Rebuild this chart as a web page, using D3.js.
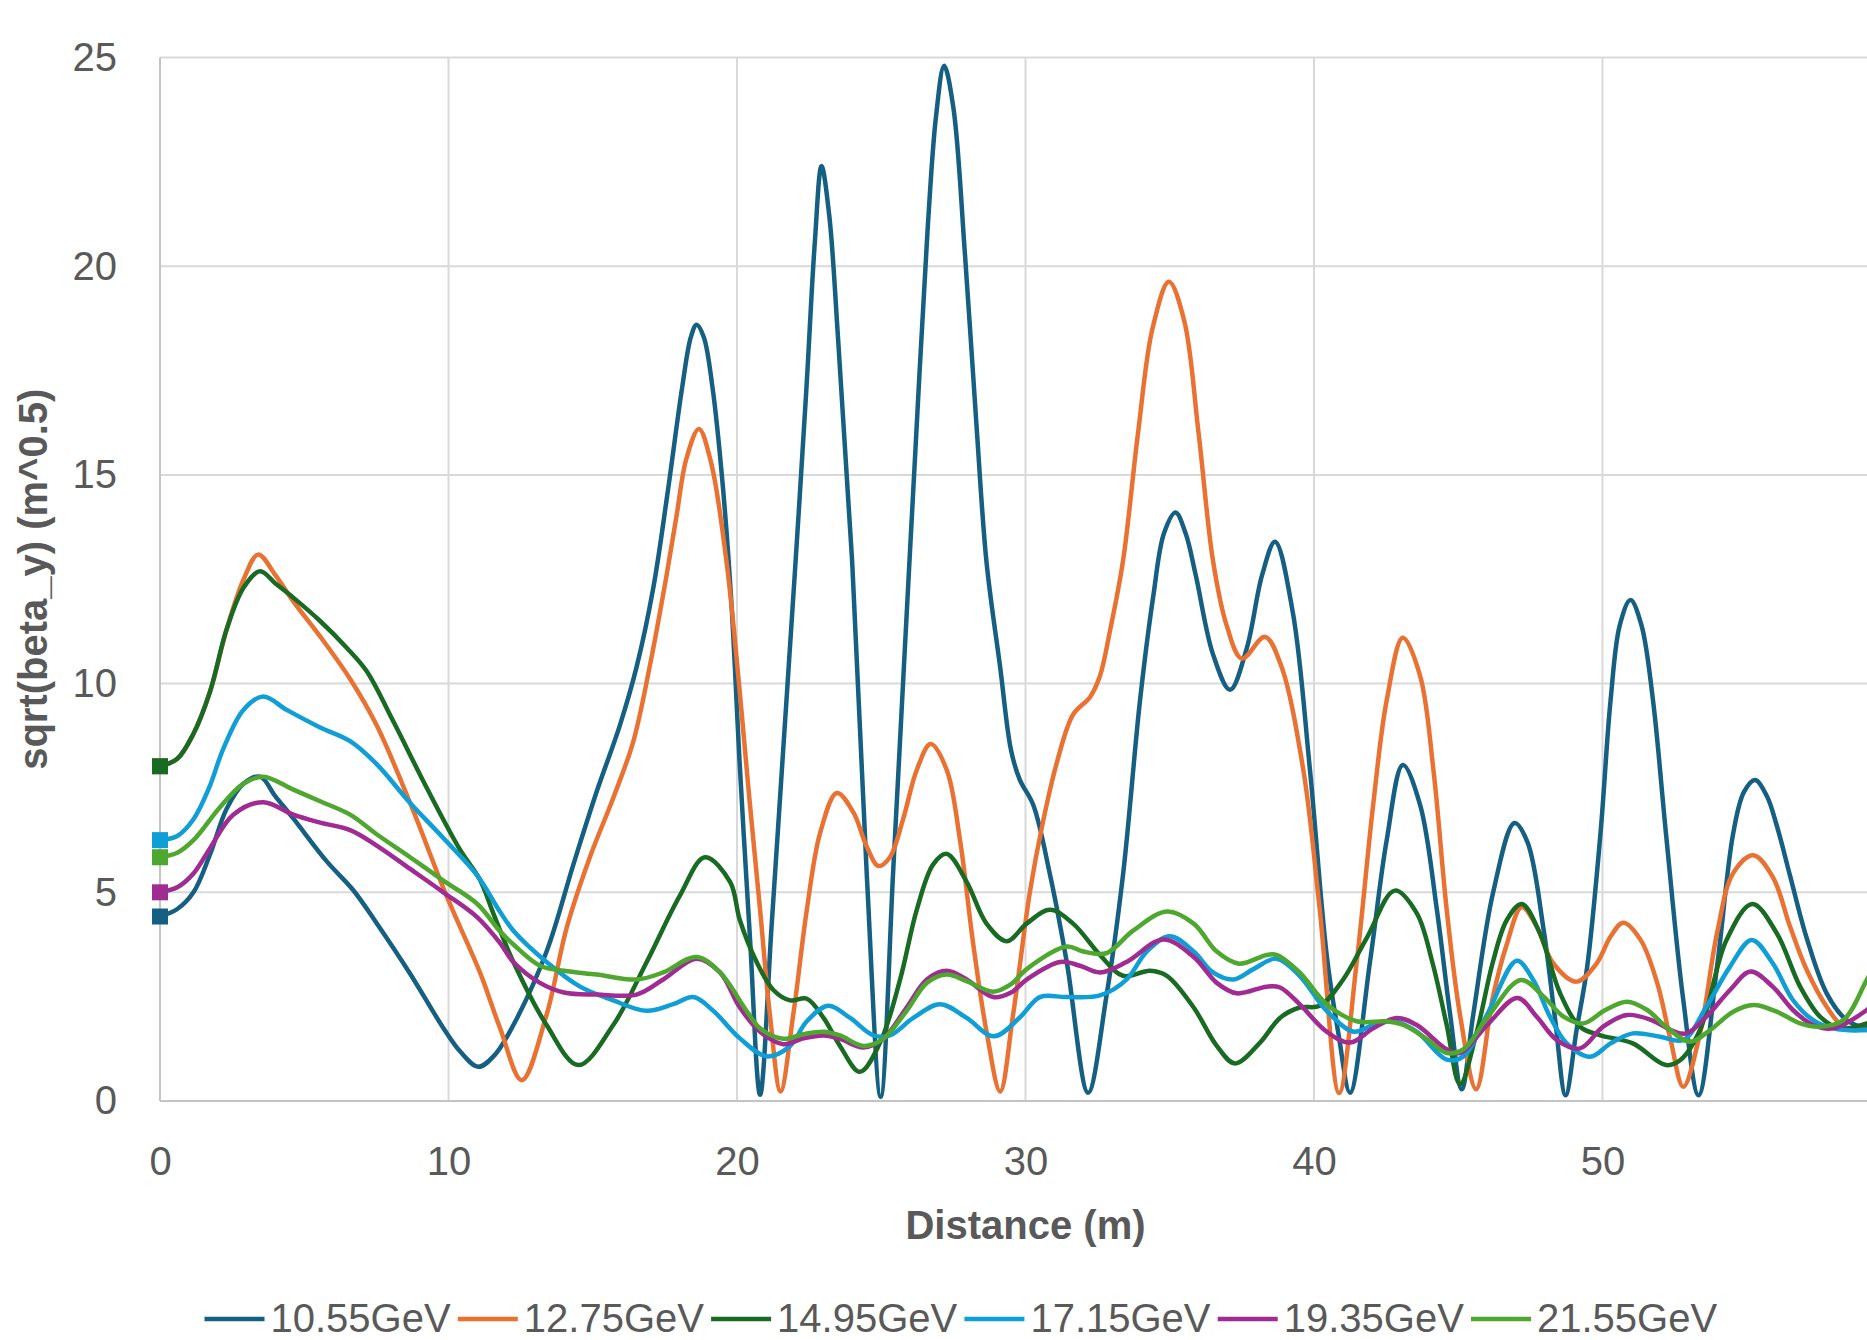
<!DOCTYPE html>
<html>
<head>
<meta charset="utf-8">
<script src="https://cdn.jsdelivr.net/npm/d3@7"></script>
<style>
  body { margin: 0; background: #fff; }
  text { font-family: "Liberation Sans", Arial, sans-serif; fill: #595959; }
</style>
</head>
<body>
<div id="chart"></div>
<script>
// sqrt(beta_y) along the line, one series per beam energy
var seriesNames = ["10.55GeV", "12.75GeV", "14.95GeV", "17.15GeV", "19.35GeV", "21.55GeV"];
var seriesColors = ["#156082", "#E97132", "#196B24", "#0F9ED5", "#A02B93", "#4EA72E"];

var xTicks = [0, 10, 20, 30, 40, 50];
var yTicks = [0, 5, 10, 15, 20, 25];

var s10_55 = [[0,4.42],[0.6,4.6],[1.16,5.0],[1.73,5.9],[2.31,7.0],[2.89,7.6],[3.47,7.77],[4.0,7.3],[4.62,6.77],
  [5.78,5.74],[6.7,5.05],[7.51,4.26],[8.67,3.05],[9.82,1.75],[10.4,1.19],[11.03,0.82],[11.6,1.1],[12.25,1.82],
  [13.4,3.58],[14.33,5.67],[15.14,7.42],[15.94,9.0],[16.52,10.4],[17.1,12.3],[17.6,14.6],[18.1,17.1],[18.4,18.3],
  [18.6,18.6],[18.85,18.3],[19.15,17.1],[19.5,14.8],[19.8,12.0],[20.1,8.0],[20.45,3.9],[20.8,0.15],[21.2,4.2],[21.6,8.4],
  [22.0,12.6],[22.4,17.0],[22.7,20.6],[22.93,22.4],[23.2,21.2],[23.5,18.3],[24.0,12.8],[24.5,5.4],
  [24.98,0.1],[25.42,5.6],[25.8,10.6],[26.2,15.8],[26.6,20.8],[26.9,23.6],[27.18,24.8],[27.5,23.8],[27.9,20.3],
  [28.3,16.2],[28.65,12.9],[29.12,10.4],[29.5,8.4],[29.8,7.7],[30.27,7.09],[30.85,5.42],[31.43,3.33],[32.17,0.2],
  [32.8,2.49],[33.38,5.42],[33.97,9.6],[34.43,12.1],[34.8,13.6],[35.2,14.1],[35.55,13.6],[35.9,12.6],[36.5,10.7],
  [37.09,9.85],[37.67,10.85],[38.2,12.6],[38.65,13.4],[39.27,11.69],[39.86,7.93],[40.44,3.5],[40.85,1.6],[41.25,0.2],
  [41.94,3.33],[42.52,6.25],[43.08,8.05],[43.68,7.09],[44.26,4.58],[44.72,2.07],[45.12,0.28],[45.52,2.07],[46.21,5.0],
  [46.95,6.66],[47.4,6.2],[47.96,4.1],[48.35,2.0],[48.72,0.14],[49.1,1.7],[49.47,3.22],[49.93,6.41],[50.28,9.6],
  [50.6,11.4],[50.97,12.0],[51.35,11.4],[51.75,9.6],[52.2,6.41],[52.8,2.42],[53.33,0.14],[53.97,3.22],[54.53,6.41],
  [54.9,7.4],[55.29,7.69],[55.7,7.3],[56.04,6.6],[56.5,5.4],[57.08,3.9],[57.77,2.58],[58.46,1.94],[59.16,1.74],[60,1.7]];

var s12_75 = [[0,8.02],[0.6,8.2],[1.16,8.8],[1.73,9.8],[2.31,11.3],[2.9,12.5],[3.4,13.09],[4.0,12.6],[4.62,11.97],
  [5.55,11.13],[6.59,10.11],[7.51,9.0],[8.67,7.14],[9.94,4.9],[11.09,3.08],[11.79,1.74],[12.54,0.5],[13.4,2.07],
  [14.1,4.16],[14.9,5.84],[15.71,7.26],[16.4,8.6],[16.98,10.43],[17.56,12.6],[17.9,14.0],[18.25,15.4],[18.68,16.1],
  [19.1,15.3],[19.64,12.9],[20.1,9.77],[20.45,7.09],[20.8,4.58],[21.14,2.07],[21.51,0.23],[21.95,2.07],[22.42,4.58],
  [22.88,6.42],[23.46,7.38],[24.03,6.92],[24.5,6.09],[24.9,5.63],[25.3,5.84],[25.76,6.76],[26.23,7.93],[26.71,8.55],
  [27.27,7.93],[27.73,6.25],[28.19,3.75],[28.65,1.66],[29.12,0.23],[29.57,2.07],[30.15,5.0],[30.6,6.67],[31.08,8.09],
  [31.65,9.26],[32.24,9.68],[32.58,10.18],[32.93,11.27],[33.38,12.94],[33.9,16.0],[34.4,18.5],[34.97,19.63],
  [35.5,18.7],[36.0,16.0],[36.5,12.94],[36.97,11.4],[37.5,10.6],[38.3,11.12],[38.85,10.45],[39.63,7.93],[40.2,4.58],
  [40.87,0.19],[41.48,3.33],[42.05,7.09],[42.52,9.6],[43.08,11.1],[43.68,10.18],[44.14,7.93],[44.6,4.58],[45.06,2.07],
  [45.62,0.28],[46.2,2.49],[46.68,3.75],[47.2,4.65],[47.72,4.18],[48.29,3.3],[49.1,2.86],[49.8,3.3],[50.28,3.94],
  [50.72,4.27],[51.32,3.86],[51.9,2.82],[52.36,1.46],[52.8,0.34],[53.38,1.62],[53.97,4.02],[54.53,5.46],[55.23,5.89],
  [55.9,5.37],[56.5,4.18],[57.08,3.14],[57.77,2.26],[58.35,1.78],[59.16,1.7],[60,1.7]];

var s14_95 = [[0,8.02],[0.6,8.2],[1.16,8.8],[1.73,9.8],[2.31,11.3],[2.9,12.3],[3.47,12.69],[4.0,12.4],[4.62,12.06],
  [5.55,11.5],[6.47,10.86],[7.16,10.3],[8.09,9.09],[9.24,7.51],[10.4,6.02],[11.09,5.3],[11.55,4.5],[12.25,3.33],
  [13.4,1.82],[14.5,0.86],[15.71,1.82],[16.87,3.33],[18.02,4.92],[18.89,5.84],[19.76,5.25],[20.1,4.33],[20.68,3.33],
  [21.26,2.66],[21.84,2.41],[22.42,2.45],[23.0,1.99],[23.57,1.32],[24.26,0.7],[24.96,1.4],[25.65,2.9],[26.23,4.58],
  [26.8,5.67],[27.27,5.92],[27.96,5.25],[28.65,4.25],[29.35,3.83],[30.04,4.25],[30.85,4.58],[31.65,4.25],[32.58,3.5],
  [33.38,3.0],[34.32,3.12],[34.9,3.0],[35.83,2.24],[36.63,1.32],[37.26,0.9],[38.13,1.4],[38.82,1.99],[39.5,2.24],
  [40.2,2.28],[41.0,2.9],[41.83,3.91],[42.8,5.04],[43.56,4.5],[44.1,3.33],[44.6,1.82],[45.06,0.4],[45.64,1.65],
  [46.2,3.33],[46.68,4.33],[47.2,4.72],[47.83,4.02],[48.53,2.58],[49.22,1.78],[49.9,1.58],[51.05,1.38],[52.2,0.86],
  [52.7,0.98],[53.38,1.7],[54.3,3.86],[55.19,4.72],[56.04,4.02],[56.85,2.74],[57.54,2.02],[58.23,1.74],[59.16,1.86],[60,2.1]];

var s17_15 = [[0,6.25],[0.6,6.35],[1.16,6.75],[1.7,7.5],[2.2,8.45],[2.89,9.37],[3.58,9.69],[4.39,9.37],[5.55,8.95],
  [6.59,8.62],[7.51,8.07],[8.67,7.14],[9.82,6.3],[11.0,5.4],[11.78,4.54],[12.25,4.08],[13.4,3.33],[14.56,2.74],[15.71,2.41],
  [16.87,2.16],[17.79,2.32],[18.49,2.49],[19.18,2.16],[20.1,1.5],[21.03,1.07],[21.84,1.32],[22.42,1.91],[23.16,2.28],
  [23.92,1.99],[24.73,1.57],[25.3,1.57],[26.11,1.99],[27.04,2.32],[27.96,1.99],[28.9,1.55],[29.8,2.0],[30.5,2.49],
  [31.43,2.49],[32.58,2.53],[33.5,2.91],[34.2,3.58],[35.0,3.95],[35.83,3.58],[36.5,3.08],[37.2,2.91],[37.9,3.16],
  [38.7,3.41],[39.5,3.0],[40.44,2.16],[41.37,1.66],[42.05,1.82],[42.75,1.91],[43.56,1.66],[44.6,0.99],[45.18,1.07],
  [46.0,2.07],[47.03,3.36],[47.6,2.9],[48.18,2.02],[48.76,1.38],[49.57,1.06],[50.28,1.38],[51.05,1.62],[52.0,1.54],
  [52.8,1.46],[53.6,2.26],[54.42,3.22],[55.17,3.86],[55.9,3.3],[56.6,2.42],[57.3,1.94],[58.0,1.74],[59.16,1.7],[60,1.8]];

var s19_35 = [[0,5.0],[0.6,5.12],[1.16,5.45],[1.73,6.05],[2.54,6.86],[3.58,7.16],[4.62,6.86],[5.55,6.67],[6.59,6.49],
  [7.51,6.12],[8.67,5.56],[9.82,5.0],[11.0,4.4],[11.78,3.79],[12.25,3.33],[13.17,2.83],[14.0,2.6],[15.14,2.55],
  [16.52,2.55],[17.44,2.91],[18.6,3.41],[19.41,3.08],[20.1,2.24],[20.8,1.66],[21.6,1.36],[22.3,1.5],[23.0,1.57],
  [23.57,1.49],[24.38,1.28],[25.07,1.49],[25.88,2.24],[26.58,2.91],[27.27,3.12],[27.96,2.91],[28.88,2.49],[29.5,2.6],
  [30.04,2.91],[31.2,3.33],[31.89,3.24],[32.58,3.08],[33.5,3.33],[34.78,3.87],[35.83,3.45],[36.63,2.83],[37.32,2.58],
  [38.36,2.74],[38.82,2.72],[39.5,2.32],[40.44,1.66],[41.25,1.4],[42.05,1.74],[42.86,1.99],[43.56,1.82],[44.6,1.24],
  [45.06,1.15],[46.0,1.82],[47.05,2.47],[47.72,2.02],[48.42,1.46],[49.22,1.26],[50.02,1.78],[50.85,2.06],[51.7,1.94],
  [52.5,1.66],[52.92,1.62],[53.6,2.02],[54.42,2.66],[55.13,3.1],[55.9,2.74],[56.6,2.18],[57.3,1.82],[58.0,1.74],
  [59.16,2.18],[60,2.7]];

var s21_55 = [[0,5.84],[0.6,5.95],[1.16,6.25],[2.08,7.04],[2.89,7.6],[3.58,7.77],[4.62,7.46],[5.55,7.18],[6.59,6.86],
  [7.51,6.39],[8.67,5.84],[9.82,5.28],[11.0,4.72],[11.78,4.07],[12.25,3.75],[13.17,3.24],[14.0,3.12],[15.14,3.03],
  [16.52,2.91],[17.44,3.08],[18.6,3.45],[19.41,3.08],[20.33,2.16],[20.8,1.74],[21.6,1.49],[22.3,1.6],[23.0,1.66],
  [23.57,1.57],[24.38,1.32],[25.07,1.49],[25.88,2.16],[26.58,2.83],[27.27,3.03],[27.96,2.87],[28.88,2.62],[29.5,2.8],
  [30.04,3.16],[31.43,3.7],[32.0,3.58],[32.8,3.54],[33.73,4.08],[34.9,4.54],[35.83,4.25],[36.63,3.58],[37.4,3.29],
  [38.36,3.5],[38.7,3.5],[39.5,3.08],[40.44,2.32],[41.48,1.91],[42.52,1.91],[43.1,1.82],[43.9,1.49],[44.6,1.15],
  [45.18,1.24],[46.0,1.99],[47.17,2.9],[47.96,2.5],[48.65,2.02],[49.34,1.86],[50.1,2.18],[50.85,2.38],[51.55,2.18],
  [52.2,1.78],[53.03,1.42],[53.73,1.7],[54.53,2.14],[55.23,2.3],[56.04,2.14],[56.85,1.86],[57.54,1.78],[58.35,1.94],
  [59.16,2.9],[60,4.0]];

var allSeries = [s10_55, s12_75, s14_95, s17_15, s19_35, s21_55];

var width = 1867, height = 1340;
var plotLeft = 160, plotRight = 1891, plotTop = 57.5, plotBottom = 1101;

var svg = d3.select("#chart").append("svg")
  .attr("width", width)
  .attr("height", height)
  .style("display", "block");

svg.append("rect").attr("width", width).attr("height", height).attr("fill", "#fff");

var x = d3.scaleLinear().domain([0, 60]).range([plotLeft, plotRight]);
var y = d3.scaleLinear().domain([0, 25]).range([plotBottom, plotTop]);

// grid
svg.append("g").selectAll("line")
  .data(yTicks.slice(1))
  .enter().append("line")
  .attr("x1", plotLeft).attr("x2", plotRight)
  .attr("y1", d => y(d)).attr("y2", d => y(d))
  .attr("stroke", "#d9d9d9").attr("stroke-width", 2);

svg.append("g").selectAll("line")
  .data(xTicks.slice(1))
  .enter().append("line")
  .attr("x1", d => x(d)).attr("x2", d => x(d))
  .attr("y1", plotTop).attr("y2", plotBottom)
  .attr("stroke", "#d9d9d9").attr("stroke-width", 2);

// axis lines
svg.append("line").attr("x1", plotLeft).attr("x2", plotLeft).attr("y1", plotTop).attr("y2", plotBottom)
  .attr("stroke", "#c4c4c4").attr("stroke-width", 2);
svg.append("line").attr("x1", plotLeft).attr("x2", plotRight).attr("y1", plotBottom).attr("y2", plotBottom)
  .attr("stroke", "#c4c4c4").attr("stroke-width", 2);

// tick labels
var yAxis = svg.append("g")
  .attr("transform", "translate(" + plotLeft + ",0)")
  .call(d3.axisLeft(y).tickValues(yTicks).tickSize(0).tickPadding(43));
var xAxis = svg.append("g")
  .attr("transform", "translate(0," + plotBottom + ")")
  .call(d3.axisBottom(x).tickValues(xTicks).tickSize(0).tickPadding(46));
[yAxis, xAxis].forEach(function(a) {
  a.select(".domain").remove();
  a.selectAll("text")
    .style("font-family", '"Liberation Sans", Arial, sans-serif')
    .style("font-size", "40px")
    .attr("fill", "#595959");
});

// axis titles
svg.append("text")
  .attr("x", (plotLeft + plotRight) / 2).attr("y", 1239)
  .attr("text-anchor", "middle")
  .style("font-size", "40px").style("font-weight", "bold")
  .text("Distance (m)");

svg.append("text")
  .attr("transform", "translate(47," + ((plotTop + plotBottom) / 2) + ") rotate(-90)")
  .attr("text-anchor", "middle")
  .style("font-size", "40px").style("font-weight", "bold")
  .text("sqrt(beta_y) (m^0.5)");

// lines
var line = d3.line()
  .x(d => x(d[0]))
  .y(d => y(d[1]))
  .curve(d3.curveCatmullRom.alpha(0.5));

var plot = svg.append("g");

allSeries.forEach(function(s, i) {
  plot.append("path")
    .datum(s)
    .attr("d", line)
    .attr("fill", "none")
    .attr("stroke", seriesColors[i])
    .attr("stroke-width", 4.5)
    .attr("stroke-linejoin", "round");
  plot.append("rect")
    .attr("x", x(s[0][0]) - 8).attr("y", y(s[0][1]) - 8)
    .attr("width", 16).attr("height", 16)
    .attr("fill", seriesColors[i]);
});

// legend
var legend = svg.append("g").selectAll("g")
  .data(seriesNames)
  .enter().append("g")
  .attr("transform", (d, i) => "translate(" + (204.5 + i * 253.3) + ",0)");

legend.append("line")
  .attr("x1", 0).attr("x2", 60)
  .attr("y1", 1319).attr("y2", 1319)
  .attr("stroke", (d, i) => seriesColors[i])
  .attr("stroke-width", 4.5);

legend.append("text")
  .attr("x", 66).attr("y", 1332)
  .style("font-size", "40px")
  .text(d => d);
</script>
</body>
</html>
